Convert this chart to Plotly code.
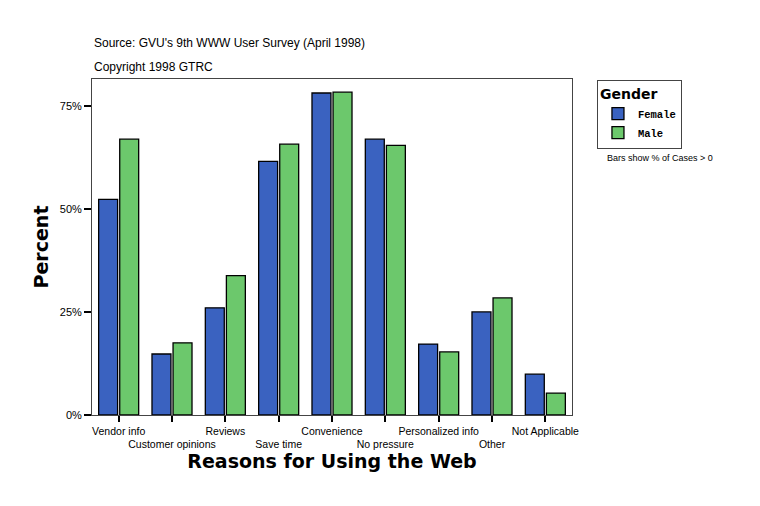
import plotly.graph_objects as go

# reasons for using the web, % of cases by gender
categories = ["Vendor info", "Customer opinions", "Reviews", "Save time", "Convenience",
              "No pressure", "Personalized info", "Other", "Not Applicable"]
female = [52.3, 14.8, 26.0, 61.5, 78.1, 66.9, 17.2, 25.0, 9.9]
male = [66.9, 17.5, 33.8, 65.7, 78.3, 65.4, 15.3, 28.4, 5.3]
y_ticks = [0, 25, 50, 75]
y_labels = ["0%", "25%", "50%", "75%"]

# alternate label rows like the original
tick_text = [c if i % 2 == 0 else "<br>" + c for i, c in enumerate(categories)]

fig = go.Figure()
fig.add_trace(go.Bar(x=categories, y=female, name="<b>Female</b>",
                     marker=dict(color="#3A62C0", line=dict(color="black", width=1.3))))
fig.add_trace(go.Bar(x=categories, y=male, name="<b>Male</b>",
                     marker=dict(color="#6CC86C", line=dict(color="black", width=1.3))))

# page body adds ~8px, margins compensate
fig.update_layout(
    width=760, height=506,
    margin=dict(l=84, r=196, t=71, b=99, autoexpand=False),
    paper_bgcolor="white", plot_bgcolor="white",
    barmode="group", bargap=0.21, bargroupgap=0.1,
    font=dict(family="Liberation Sans, Arial", size=11, color="black"),
    showlegend=True,
    legend=dict(
        title=dict(text="<b>Gender</b>", font=dict(family="DejaVu Sans", size=14)),
        font=dict(family="Liberation Mono", size=10.5),
        x=1.052, y=0.997, xanchor="left", yanchor="top",
        bordercolor="#444", borderwidth=1, bgcolor="white",
        itemwidth=30, tracegroupgap=0,
    ),
    annotations=[
        dict(text="Source: GVU's 9th WWW User Survey (April 1998)", x=0, y=1.107,
             xref="paper", yref="paper", xanchor="left", yanchor="middle",
             showarrow=False, font=dict(size=12)),
        dict(text="Copyright 1998 GTRC", x=0, y=1.036,
             xref="paper", yref="paper", xanchor="left", yanchor="middle",
             showarrow=False, font=dict(size=12)),
        dict(text="Bars show % of Cases > 0", x=1.069, y=0.765,
             xref="paper", yref="paper", xanchor="left", yanchor="middle",
             showarrow=False, font=dict(size=9)),
    ],
)

fig.update_xaxes(
    tickvals=categories, ticktext=tick_text, tickangle=0,
    ticks="outside", ticklen=6, tickwidth=2, tickcolor="black",
    tickfont=dict(size=10.5),
    showline=True, linecolor="#444", linewidth=1, mirror=True,
    showgrid=False,
    title=dict(text="<b>Reasons for Using the Web</b>", standoff=1,
               font=dict(family="DejaVu Sans", size=19)),
)
fig.update_yaxes(
    range=[0, 81.5], tickvals=y_ticks, ticktext=y_labels,
    ticks="outside", ticklen=7, tickwidth=2, tickcolor="black",
    showline=True, linecolor="#444", linewidth=1, mirror=True,
    showgrid=False, zeroline=False,
    title=dict(text="<b>Percent</b>", standoff=6,
               font=dict(family="DejaVu Sans", size=19)),
)

fig.write_html("out.html")
